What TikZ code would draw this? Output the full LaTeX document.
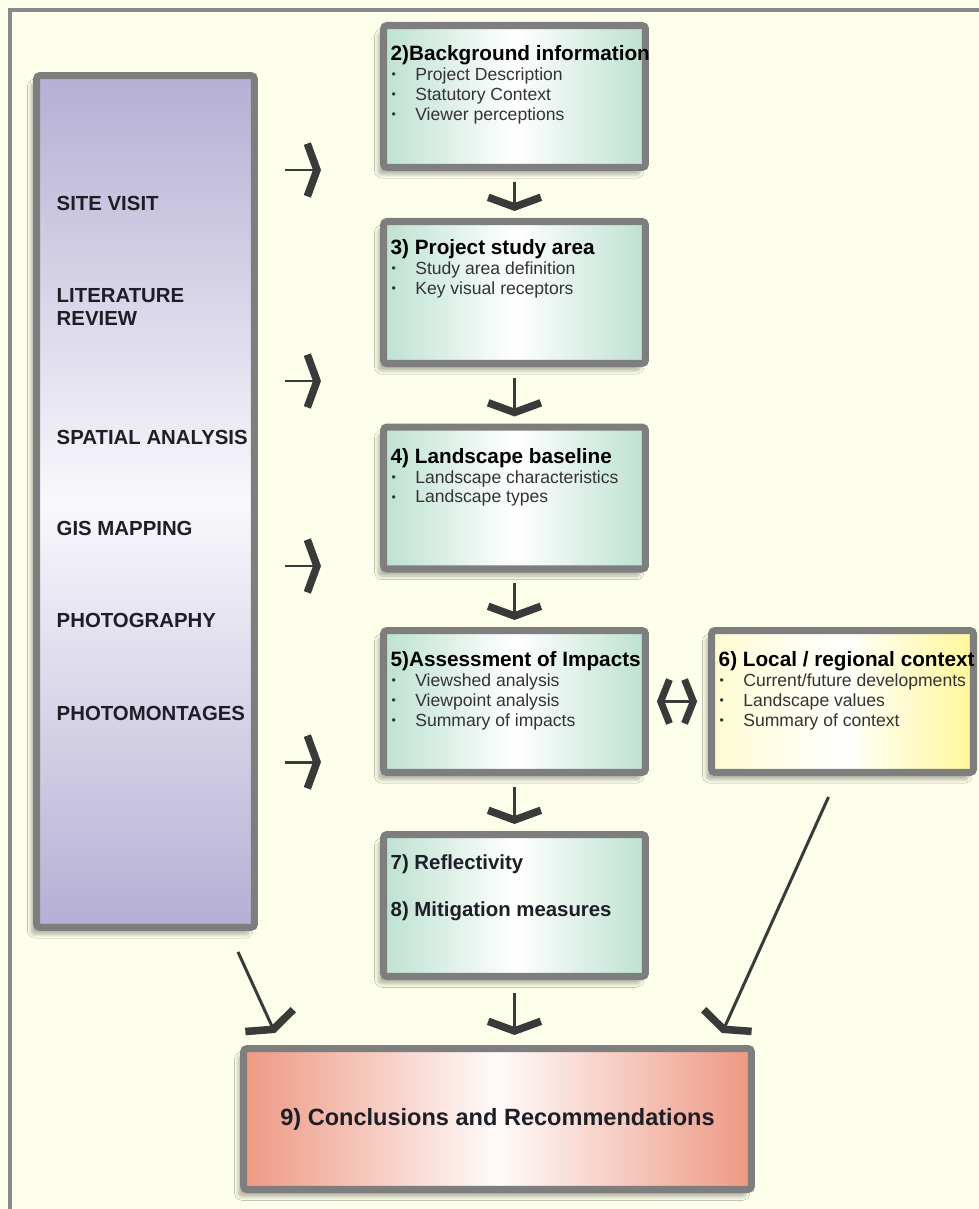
\documentclass[tikz,border=0pt]{standalone}
\usepackage{fontspec}
\setmainfont{Liberation Sans}
\usetikzlibrary{arrows.meta, positioning, calc, shadows.blur}

\definecolor{bgyellow}{HTML}{FDFFEA}
\definecolor{framegray}{HTML}{8A8A8A}
\definecolor{boxgray}{HTML}{7E7E7E}
\definecolor{arrowgray}{HTML}{3A3A3A}
\definecolor{lilac}{HTML}{B4AFD4}
\definecolor{seagreen}{HTML}{BDE1D1}
\definecolor{salmon}{HTML}{EE9883}
\definecolor{lemon}{HTML}{FFF79A}
\definecolor{inktext}{HTML}{1E1E26}

\newcommand{\bitem}[1]{\makebox[14pt][l]{\hspace{0.5pt}\raisebox{1pt}{\fontsize{7}{7}\selectfont\textbullet}}#1}

\begin{document}
\begin{tikzpicture}[x=0.02cm, y=-0.02cm, thick]
		% Define styles
		\tikzstyle{panel} = [draw=boxgray, line width=4pt, rounded corners=2pt, minimum width=5.24cm, minimum height=2.84cm, blur shadow={shadow xshift=-3pt, shadow yshift=-4pt, shadow blur steps=8, shadow opacity=30}]
		\tikzstyle{greenbox} = [panel, left color=seagreen, right color=seagreen, middle color=white]
		\tikzstyle{yellowbox} = [panel, left color=lemon!45, right color=lemon, middle color=white]
		\tikzstyle{redbox} = [panel, left color=salmon, right color=salmon, middle color=white!96!salmon, minimum width=10.16cm, minimum height=2.82cm]
		\tikzstyle{toolbox} = [panel, top color=lilac, bottom color=lilac, middle color=white!92!lilac, minimum width=4.36cm, minimum height=17.04cm]
		\tikzstyle{boxtext} = [anchor=north west, inner sep=0pt, align=left, text=black!80, font=\fontsize{10}{11.3}\selectfont]
		\tikzstyle{tool} = [anchor=west, inner sep=0pt, align=left, text=inktext, font=\fontsize{11.6}{13}\selectfont\bfseries]
		\tikzstyle{chev} = [draw=arrowgray, line width=1.7pt, -{Straight Barb[sharp, length=5.5pt, width=30pt, line width=4.3pt]}]
		\tikzstyle{dchev} = [draw=arrowgray, line width=1.7pt, {Straight Barb[sharp, length=5pt, width=25pt, line width=4pt]}-{Straight Barb[sharp, length=5pt, width=25pt, line width=4pt]}]
		\tikzstyle{drop} = [chev, shorten <=6pt, shorten >=4pt]

		% Page and frame
		\useasboundingbox (0,0) rectangle (979,1209);
		\fill[bgyellow] (0,0) rectangle (979,1209);
		\draw[framegray, line width=2.3pt] (10,1230) |- (1000,10);

		% Tools column
		\node [toolbox] (tools) at (145.5,501.5) {};
		\foreach \txt/\y [count=\i] in {SITE VISIT/203, {LITERATURE\\REVIEW}/307, SPATIAL ANALYSIS/437, GIS MAPPING/528, PHOTOGRAPHY/620, PHOTOMONTAGES/713}
			\node [tool] (tool\i) at (56,\y) {\txt};

		% Process boxes
		\node [greenbox] (bg) at (514.5,96.5) {};
		\node [greenbox] (study) at (514.5,292.5) {};
		\node [greenbox] (base) at (514.5,498) {};
		\node [greenbox] (impacts) at (514.5,701.5) {};
		\node [yellowbox] (context) at (842.5,701.5) {};
		\node [greenbox] (mitig) at (514.5,905.5) {};
		\node [redbox, font=\fontsize{13.4}{15}\selectfont\bfseries, text=inktext] (final) at (497.5,1119) {9) Conclusions and Recommendations};

		% Box contents
		\node [boxtext] (bgtxt) at ([shift={(10,23)}]bg.north west) {{\fontsize{11.8}{11.3}\selectfont\bfseries\color{black}2)Background information}\\ \bitem{Project Description}\\ \bitem{Statutory Context}\\ \bitem{Viewer perceptions}};
		\node [boxtext] (studytxt) at ([shift={(10,21)}]study.north west) {{\fontsize{11.8}{11.3}\selectfont\bfseries\color{black}3) Project study area}\\ \bitem{Study area definition}\\ \bitem{Key visual receptors}};
		\node [boxtext] (basetxt) at ([shift={(10,24)}]base.north west) {{\fontsize{11.8}{11.3}\selectfont\bfseries\color{black}4) Landscape baseline}\\ \bitem{Landscape characteristics}\\ \bitem{Landscape types}};
		\node [boxtext] (impactstxt) at ([shift={(10,24)}]impacts.north west) {{\fontsize{11.8}{11.3}\selectfont\bfseries\color{black}5)Assessment of Impacts}\\ \bitem{Viewshed analysis}\\ \bitem{Viewpoint analysis}\\ \bitem{Summary of impacts}};
		\node [boxtext] (contexttxt) at ([shift={(10,24)}]context.north west) {{\fontsize{11.8}{11.3}\selectfont\bfseries\color{black}6) Local / regional context}\\ \bitem{Current/future developments}\\ \bitem{Landscape values}\\ \bitem{Summary of context}};
		\node [boxtext, font=\fontsize{11.6}{11.3}\selectfont\bfseries, text=inktext] (mitigtxt) at ([shift={(10,23)}]mitig.north west) {7) Reflectivity\\[15.7pt] 8) Mitigation measures};

		% Arrows from the tools column
		\foreach \y [count=\i] in {170,381,566,762} {
			\coordinate (in\i) at (285,\y);
			\coordinate (out\i) at (321,\y);
			\draw [chev] (in\i) -- (out\i);
		}

		% Main sequence
		\draw [drop] (bg.south) -- (study.north);
		\draw [drop] (study.south) -- (base.north);
		\draw [drop] (base.south) -- (impacts.north);
		\draw [drop] (impacts.south) -- (mitig.north);
		\draw [drop, shorten <=7.4pt, shorten >=5.7pt] (mitig.south) -- (mitig.south |- final.north);

		% Two-way link to the local context
		\draw [dchev, shorten <=4.5pt, shorten >=6.2pt] (impacts.east) -- (context.west);

		% Side inputs to the conclusions
		\coordinate (toolsout) at ([shift={(-20,21)}]tools.south east);
		\coordinate (contextout) at ([shift={(-14,21)}]context.south);
		\draw [chev] (toolsout) -- ([shift={(35,-12)}]final.north west);
		\draw [chev] (contextout) -- ([shift={(-33,-12)}]final.north east);

	\end{tikzpicture}
\end{document}
